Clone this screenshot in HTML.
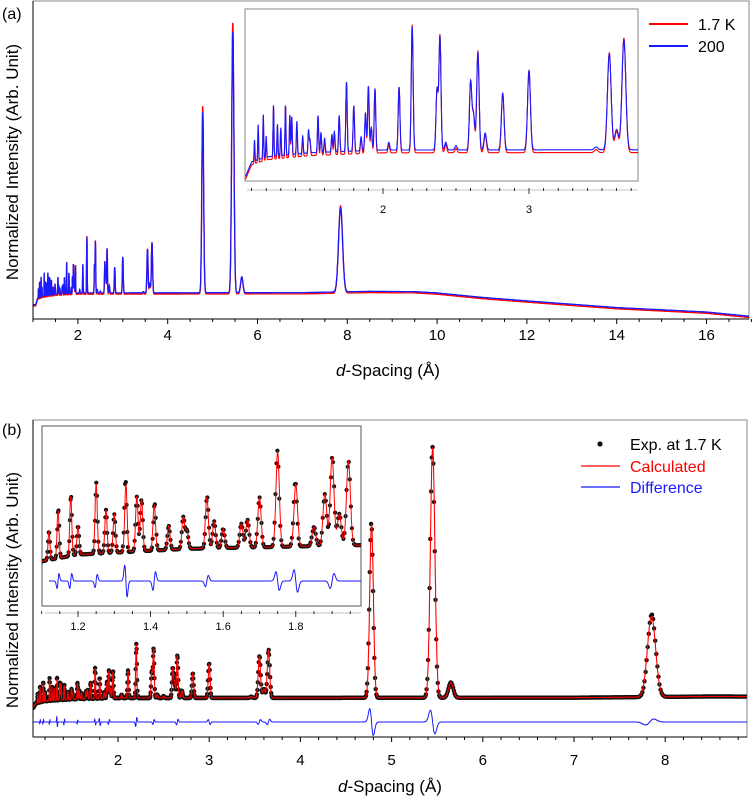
<!DOCTYPE html>
<html><head><meta charset="utf-8">
<style>
html,body{margin:0;padding:0;background:#fff;}
svg{display:block;font-family:"Liberation Sans",Arial,sans-serif;}
</style></head>
<body>
<svg id="fig" width="752" height="800" viewBox="0 0 752 800" xmlns="http://www.w3.org/2000/svg">
<defs>
<clipPath id="clipA"><rect x="33" y="1" width="716" height="318"/></clipPath>
<clipPath id="clipIA"><rect x="245" y="9" width="393" height="172"/></clipPath>
<clipPath id="clipB"><rect x="33" y="420" width="714" height="317"/></clipPath>
<clipPath id="clipIB"><rect x="42" y="426" width="319" height="180"/></clipPath>
</defs>
<g id="root"></g>
</svg>
<script>
// ---- data ----
const peakD = [1.12,1.145,1.18,1.2,1.25,1.277,1.3,1.332,1.362,1.375,1.41,1.45,1.49,1.50,1.555,1.575,1.6,1.65,1.667,1.70,1.75,1.80,1.85,1.88,1.90,1.92,1.945,2.04,2.11,2.20,2.37,2.39,2.43,2.5,2.6,2.62,2.65,2.70,2.82,3.00,3.46,3.55,3.60,3.65,4.78,5.45,5.65,7.85];
const peakH = [3,5.0,6.2,3,7.3,4.5,4,7.1,5.7,5.4,4.7,2.5,3.3,1.9,5.3,2.8,2,2.5,2.9,5.2,9.9,6.5,2,5.4,9.2,3.3,8.8,1.1,9.0,17.6,8.6,16.1,1.1,0.6,9.7,5,13.9,2.4,8.1,11.3,0.4,13.7,2.9,15.7,56.8,82,5,26.4];
const bgD = [1.0,1.06,1.1,1.2,1.5,2,7,8.5,9.5,10,11,12,14,16,17];
const bgI = [4.5,4.5,6.5,7.2,7.8,8.2,8.3,8.7,8.6,8.2,6.8,5.7,3.6,2.2,0.8];
const redScale = [1.04];
const redShift = [-0.4];
const diffD = [1.145,1.18,1.25,1.332,1.41,1.555,1.75,1.80,1.90,2.20,2.39,2.65,3.00,3.55,3.65,4.78,5.45,7.83];
const diffA = [0.8,0.8,0.7,-1.7,1.0,0.6,-1.0,-1.2,0.8,1.5,0.8,0.9,-0.8,0.8,0.9,-4.5,-4.0,1.0];
const ticksA = [2,4,6,8,10,12,14,16];
const ticksIA = [2,3];
const ticksB = [2,3,4,5,6,7,8];
const ticksIB = [1.2,1.4,1.6,1.8];

const NS="http://www.w3.org/2000/svg";
const root=document.getElementById('root');
function el(tag,attrs,parent){const e=document.createElementNS(NS,tag);for(const k in attrs)e.setAttribute(k,attrs[k]);(parent||root).appendChild(e);return e;}
function bg(d){if(d<=bgD[0])return bgI[0];for(let i=1;i<bgD.length;i++){if(d<=bgD[i]){const t=(d-bgD[i-1])/(bgD[i]-bgD[i-1]);return bgI[i-1]+t*(bgI[i]-bgI[i-1]);}}return bgI[bgI.length-1];}
function sig(p){return 0.0018*p+0.0005*p*p;}
function calc(d,scale,shift){let v=bg(d)+shift;for(let i=0;i<peakD.length;i++){const s=sig(peakD[i]);const x=(d-peakD[i])/s;if(Math.abs(x)<8)v+=scale*peakH[i]*Math.exp(-x*x/2);}return v;}
function diff(d){let v=0;for(let i=0;i<diffD.length;i++){const s=sig(diffD[i]);const x=(d-diffD[i])/s;if(Math.abs(x)<8)v+=diffA[i]*x*Math.exp(-x*x/2)*1.6;}return v;}
function pathFrom(d0,d1,step,xf,yf,fn){let p='';let first=true;for(let d=d0;d<=d1;d+=step){p+=(first?'M':'L')+xf(d).toFixed(1)+','+yf(fn(d)).toFixed(1);first=false;}return p;}

// scales
const xA=d=>33+(d-1)*44.9, yA=v=>319-3.18*v;
const xIA=d=>383+(d-2)*146, yIA=v=>150-7*(v-8.2);
const xB=d=>118+(d-2)*91.2, yB=v=>698-3.05*(v-8.2), yBd=v=>722-3.05*v;
const xIB=d=>78+(d-1.2)*363, yIB=v=>545-9.6*(v-8.2), yIBd=v=>581-9.6*v;
const red=d=>calc(d,redScale[0],redShift[0]), blue=d=>calc(d,1,0);

// ===== Panel A =====
const gA=el('g',{});


el('rect',{x:33,y:1,width:716,height:318,fill:'none',stroke:'#888','stroke-width':1},gA);
const sA=el('g',{'clip-path':'url(#clipA)'},gA);
const rA=el('path',{d:pathFrom(1.0,17,0.002,xA,yA,red),fill:'none',stroke:'#ff0000','stroke-width':1.3},sA);


const bA=el('path',{d:pathFrom(1.0,17,0.002,xA,yA,blue),fill:'none',stroke:'#1a1aff','stroke-width':1.3},sA);


el('line',{x1:33,y1:319,x2:749,y2:319,stroke:'#000','stroke-width':1},gA);
el('line',{x1:33,y1:1,x2:33,y2:319,stroke:'#000','stroke-width':1},gA);
for(let t=1;t<=17.001;t+=0.5){const maj=Math.abs(t/2-Math.round(t/2))<1e-6;el('line',{x1:xA(t),y1:319,x2:xA(t),y2:319+(maj?5:3),stroke:'#000','stroke-width':1},gA);}
ticksA.forEach(t=>{const tx=el('text',{x:xA(t),y:340,'text-anchor':'middle','font-size':15},gA);tx.textContent=t;

});
// inset A
el('rect',{x:245,y:9,width:393,height:172,fill:'#fff',stroke:'#888','stroke-width':1},gA);
const sIA=el('g',{'clip-path':'url(#clipIA)'},gA);
const rIA=el('path',{d:pathFrom(1.055,3.75,0.0008,xIA,yIA,red),fill:'none',stroke:'#ff0000','stroke-width':1.1},sIA);


const bIA=el('path',{d:pathFrom(1.055,3.75,0.0008,xIA,yIA,blue),fill:'none',stroke:'#1a1aff','stroke-width':1.1},sIA);


el('line',{x1:247,y1:190,x2:638,y2:190,stroke:'#888','stroke-width':0.6},gA);
for(let t=1.1;t<=3.75;t+=0.1){const maj=Math.abs(t-Math.round(t))<1e-6;el('line',{x1:xIA(t),y1:188,x2:xIA(t),y2:maj?194:191,stroke:'#000','stroke-width':0.8},gA);}
ticksIA.forEach(t=>{const tx=el('text',{x:xIA(t),y:213,'text-anchor':'middle','font-size':11},gA);tx.textContent=t;

});
// legend A
const lgA=el('g',{},gA);


el('line',{x1:649,y1:24,x2:688,y2:24,stroke:'#ff0000','stroke-width':2},lgA);
el('line',{x1:649,y1:46,x2:688,y2:46,stroke:'#1a1aff','stroke-width':2},lgA);
let t1=el('text',{x:698,y:30,'font-size':16},lgA);t1.textContent='1.7 K';
let t2=el('text',{x:698,y:52,'font-size':16},lgA);t2.textContent='200';
let la=el('text',{x:2,y:19,'font-size':16},gA);la.textContent='(a)';


let ya=el('text',{x:0,y:0,'font-size':17,'text-anchor':'middle',transform:'translate(18,162) rotate(-90)'},gA);ya.textContent='Normalized Intensity (Arb. Unit)';


let xa=el('text',{x:388,y:376,'font-size':17,'text-anchor':'middle'},gA);xa.innerHTML='<tspan font-style="italic">d</tspan>-Spacing (Å)';



// ===== Panel B =====
const gB=el('g',{});


el('rect',{x:33,y:420,width:714,height:317,fill:'none',stroke:'#888','stroke-width':1},gB);
const sB=el('g',{'clip-path':'url(#clipB)'},gB);
const dots=[];for(let d=1.07;d<=8.9;d*=1.0015)dots.push(d);
const dg=el('g',{fill:'#111'},sB);


dots.forEach(d=>{el('circle',{cx:xB(d).toFixed(1),cy:yB(blue(d)+diff(d)).toFixed(1),r:2.2},dg);});
const cB=el('path',{d:pathFrom(1.07,8.9,0.001,xB,yB,blue),fill:'none',stroke:'#ff0000','stroke-width':1.1},sB);


const dB=el('path',{d:pathFrom(1.07,8.9,0.001,xB,yBd,diff),fill:'none',stroke:'#1a1aff','stroke-width':1},sB);


el('line',{x1:33,y1:737,x2:747,y2:737,stroke:'#000','stroke-width':1},gB);
el('line',{x1:33,y1:420,x2:33,y2:737,stroke:'#000','stroke-width':1},gB);
for(let t=1.2;t<=8.9;t+=0.2){const maj=Math.abs(t-Math.round(t))<1e-6;el('line',{x1:xB(t),y1:737,x2:xB(t),y2:737+(maj?5:3),stroke:'#000','stroke-width':1},gB);}
ticksB.forEach(t=>{const tx=el('text',{x:xB(t),y:765,'text-anchor':'middle','font-size':15},gB);tx.textContent=t;

});
// inset B
el('rect',{x:42,y:426,width:319,height:180,fill:'#fff',stroke:'#555','stroke-width':1},gB);
const sIB=el('g',{'clip-path':'url(#clipIB)'},gB);
const dgi=el('g',{fill:'#111'},sIB);


dots.filter(d=>d<2).forEach(d=>{el('circle',{cx:xIB(d).toFixed(1),cy:yIB(blue(d)+diff(d)).toFixed(1),r:2.1},dgi);});
const cIB=el('path',{d:pathFrom(1.1,1.98,0.0005,xIB,yIB,blue),fill:'none',stroke:'#ff0000','stroke-width':1},sIB);


const dIB=el('path',{d:pathFrom(1.12,1.98,0.0005,xIB,yIBd,diff),fill:'none',stroke:'#1a1aff','stroke-width':1},sIB);


el('line',{x1:45,y1:613,x2:361,y2:613,stroke:'#888','stroke-width':0.6},gB);
for(let t=1.1;t<=1.98;t+=0.05){const maj=Math.abs(t*5-Math.round(t*5))<1e-6;el('line',{x1:xIB(t),y1:611,x2:xIB(t),y2:maj?617:614,stroke:'#000','stroke-width':0.8},gB);}
ticksIB.forEach(t=>{const tx=el('text',{x:xIB(t),y:630,'text-anchor':'middle','font-size':11},gB);tx.textContent=t.toFixed(1);

});
// legend B
const lgB=el('g',{},gB);


el('circle',{cx:600,cy:444,r:2.6,fill:'#111'},lgB);
el('line',{x1:581,y1:466,x2:620,y2:466,stroke:'#ff0000','stroke-width':1.2},lgB);
el('line',{x1:581,y1:487,x2:620,y2:487,stroke:'#1a1aff','stroke-width':1.2},lgB);
let l1=el('text',{x:630,y:450,'font-size':16,fill:'#000'},lgB);l1.textContent='Exp. at 1.7 K';
let l2=el('text',{x:630,y:472,'font-size':16,fill:'#ff0000'},lgB);l2.textContent='Calculated';
let l3=el('text',{x:630,y:493,'font-size':16,fill:'#1a1aff'},lgB);l3.textContent='Difference';
let lb=el('text',{x:2,y:435,'font-size':16},gB);lb.textContent='(b)';


let yb=el('text',{x:0,y:0,'font-size':17,'text-anchor':'middle',transform:'translate(18,590) rotate(-90)'},gB);yb.textContent='Normalized Intensity (Arb. Unit)';


let xb=el('text',{x:390,y:792,'font-size':17,'text-anchor':'middle'},gB);xb.innerHTML='<tspan font-style="italic">d</tspan>-Spacing (Å)';


</script>
</body></html>
